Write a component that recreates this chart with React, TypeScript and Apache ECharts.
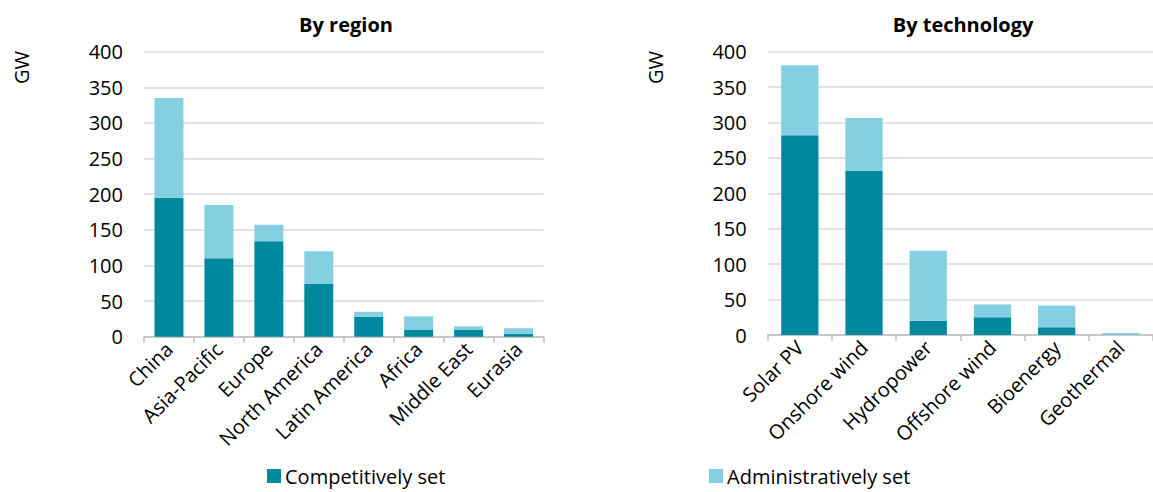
import React, { useEffect, useRef } from "react";
import * as echarts from "echarts";

const regions = ["China", "Asia-Pacific", "Europe", "North America", "Latin America", "Africa", "Middle East", "Eurasia"];
const regionCompetitive = [195, 110, 134, 74, 28, 10, 10, 4];
const regionAdministrative = [140, 75, 23, 46, 7, 18.5, 4.5, 8];

const technologies = ["Solar PV", "Onshore wind", "Hydropower", "Offshore wind", "Bioenergy", "Geothermal"];
const techCompetitive = [282, 232, 20, 25, 11, 0.5];
const techAdministrative = [99, 74.5, 99, 18, 30.5, 2.5];

const yTicks = [0, 50, 100, 150, 200, 250, 300, 350, 400];

const DARK = "#00889e";
const LIGHT = "#84cfe1";
const FONT = "Open Sans";

export default function App() {
  const ref = useRef<HTMLDivElement>(null);
  useEffect(() => {
    document.body.style.margin = "0";
    const chart = echarts.init(ref.current!, null, { renderer: "svg" });
    const catAxis = (gridIndex: number, data: string[]) => ({
      type: "category",
      gridIndex,
      data,
      axisLine: { lineStyle: { color: "#bfbfbf", width: 1.5 } },
      axisTick: { show: true, length: 6, lineStyle: { color: "#bfbfbf", width: 1.5 } },
      axisLabel: { interval: 0, rotate: 45, fontSize: 20, color: "#000", fontFamily: FONT, margin: 9 },
    });
    const valAxis = (gridIndex: number) => ({
      type: "value",
      gridIndex,
      min: yTicks[0],
      max: yTicks[yTicks.length - 1],
      interval: yTicks[1] - yTicks[0],
      axisLine: { show: false },
      axisTick: { show: false },
      splitLine: { lineStyle: { color: "#d9d9d9", width: 1.5 } },
      axisLabel: { fontSize: 20, color: "#000", fontFamily: FONT, margin: 21 },
    });
    const legendBase = {
      top: 466,
      padding: 0,
      itemWidth: 14,
      itemHeight: 14,
      icon: "rect",
      textStyle: { fontSize: 20, color: "#000", fontFamily: FONT, padding: [0, 0, 0, -1] },
    };
    chart.setOption({
      animation: false,
      textStyle: { fontFamily: FONT },
      title: [
        { text: "By region", left: 341, top: 9, textAlign: "center", textStyle: { fontSize: 20, fontWeight: "bold", color: "#000", fontFamily: FONT } },
        { text: "By technology", left: 958, top: 9, textAlign: "center", textStyle: { fontSize: 20, fontWeight: "bold", color: "#000", fontFamily: FONT } },
      ],
      legend: [
        { ...legendBase, left: 267, data: ["Competitively set"] },
        { ...legendBase, left: 709, data: ["Administratively set"] },
      ],
      grid: [
        { left: 144, right: 609.5, top: 51.7, bottom: 155.3 },
        { left: 767.7, right: 0, top: 51.7, bottom: 157 },
      ],
      xAxis: [catAxis(0, regions), catAxis(1, technologies)],
      yAxis: [valAxis(0), valAxis(1)],
      graphic: [
        { type: "text", x: 11, y: 84, rotation: Math.PI / 2, style: { text: "GW", fill: "#000", font: `20px "${FONT}"` } },
        { type: "text", x: 645, y: 84, rotation: Math.PI / 2, style: { text: "GW", fill: "#000", font: `20px "${FONT}"` } },
      ],
      series: [
        { name: "Competitively set", type: "bar", stack: "r", xAxisIndex: 0, yAxisIndex: 0, data: regionCompetitive, itemStyle: { color: DARK }, barCategoryGap: "42%" },
        { name: "Administratively set", type: "bar", stack: "r", xAxisIndex: 0, yAxisIndex: 0, data: regionAdministrative, itemStyle: { color: LIGHT }, barCategoryGap: "42%" },
        { name: "Competitively set", type: "bar", stack: "t", xAxisIndex: 1, yAxisIndex: 1, data: techCompetitive, itemStyle: { color: DARK }, barCategoryGap: "42%" },
        { name: "Administratively set", type: "bar", stack: "t", xAxisIndex: 1, yAxisIndex: 1, data: techAdministrative, itemStyle: { color: LIGHT }, barCategoryGap: "42%" },
      ],
    });
    return () => chart.dispose();
  }, []);
  return <div ref={ref} style={{ width: 1153, height: 492 }} />;
}
